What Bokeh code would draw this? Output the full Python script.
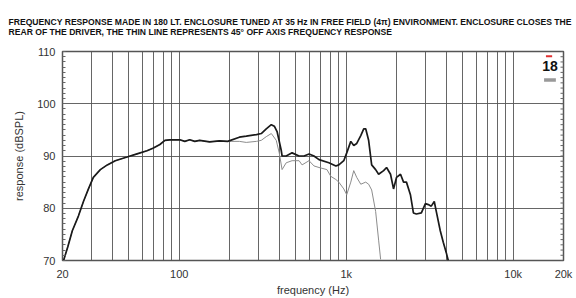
from bokeh.plotting import figure
from bokeh.models import FixedTicker, Label, Range1d, Title
from bokeh.embed import file_html
from bokeh.resources import INLINE

# On-axis response (thick line)
on_freq = [20.3, 21.5, 22.9, 24.9, 26.7, 28.6, 30.6, 33.7, 37.1, 41.4, 48.7, 55.9,
           64.1, 69.6, 76.6, 82.1, 87.9, 100.8, 108, 115.6, 123.9, 132.5, 152, 174,
           195, 229, 252, 290, 310, 332, 356, 371, 386, 408, 413, 437, 474, 522,
           559, 599, 641, 687, 787, 867, 903, 967, 1007, 1065, 1109, 1156, 1222,
           1273, 1308, 1362, 1420, 1500, 1563, 1675, 1744, 1842, 1920, 2000, 2114,
           2204, 2294, 2423, 2525, 2630, 2818, 2979, 3100, 3230, 3367, 3461, 3657,
           3811, 3972, 4083]
on_db = [70.0, 72.6, 75.7, 78.5, 81.3, 83.7, 85.9, 87.4, 88.3, 89.1, 89.8, 90.4,
         91.0, 91.5, 92.2, 93.0, 93.1, 93.1, 92.8, 93.1, 92.8, 93.0, 92.7, 92.9,
         92.8, 93.6, 93.8, 94.1, 94.3, 95.2, 96.0, 95.7, 94.6, 91.1, 90.0, 90.0,
         90.6, 90.0, 90.0, 90.4, 90.0, 89.3, 88.7, 88.1, 88.3, 89.1, 90.6, 92.8,
         92.0, 92.4, 93.9, 95.2, 95.2, 93.0, 88.3, 87.4, 86.5, 87.2, 87.8, 86.5,
         83.7, 85.9, 86.5, 85.0, 85.0, 82.6, 79.1, 78.9, 79.1, 80.9, 80.7, 80.4,
         81.3, 79.4, 75.7, 73.5, 71.5, 70.0]

# 45 deg off-axis response (thin line)
off_freq = [20.3, 21.5, 22.9, 24.9, 26.7, 28.6, 30.6, 33.7, 37.1, 41.4, 48.7, 55.9,
            64.1, 69.6, 76.6, 82.1, 87.9, 100.8, 108, 115.6, 123.9, 132.5, 152, 174,
            195, 229, 252, 290, 310, 332, 356, 381, 397, 413, 437, 474, 522, 544,
            599, 641, 687, 766, 809, 867, 903, 967, 1007, 1065, 1109, 1156, 1222,
            1308, 1362, 1420, 1500, 1563, 1607]
off_db = [70.0, 72.6, 75.7, 78.5, 81.3, 83.7, 85.9, 87.4, 88.3, 89.1, 89.8, 90.4,
          91.0, 91.5, 92.2, 93.0, 93.1, 93.1, 92.8, 93.1, 92.8, 93.0, 92.7, 92.9,
          92.8, 92.8, 92.6, 92.8, 93.0, 93.7, 94.3, 93.0, 90.6, 87.4, 88.7, 89.1,
          89.1, 88.3, 89.1, 88.1, 87.8, 87.4, 86.1, 85.5, 85.0, 83.7, 82.6, 85.0,
          87.2, 85.9, 84.6, 85.0, 84.6, 83.5, 79.4, 73.9, 70.2]

x_ticks = [20, 100, 1000, 10000, 20000]
x_tick_labels = ["20", "100", "1k", "10k", "20k"]
y_ticks = [70, 80, 90, 100, 110]
y_minor = list(range(70, 111))
x_grid = [30, 40, 50, 60, 70, 80, 90, 100, 200, 300, 400, 500, 600, 700, 800, 900,
          1000, 2000, 3000, 4000, 5000, 6000, 7000, 8000, 9000, 10000]
y_grid = [80, 90, 100]

title_text = ("FREQUENCY RESPONSE MADE IN 180 LT. ENCLOSURE TUNED AT 35 Hz IN FREE FIELD (4\u03c0) ENVIRONMENT. ENCLOSURE CLOSES THE\n"
              "REAR OF THE DRIVER, THE THIN LINE REPRESENTS 45\u00b0 OFF AXIS FREQUENCY RESPONSE")
x_label = "frequency (Hz)"
y_label = "response (dBSPL)"

FONT = "Liberation Sans"
GRID = "#555555"
TXT = "#333333"

p = figure(width=576, height=298, x_axis_type="log",
           x_range=Range1d(20, 20000), y_range=Range1d(70, 110),
           output_backend="svg", toolbar_location=None,
           min_border_left=62, min_border_right=13, min_border_top=45,
           min_border_bottom=37)
p.title = None
p.add_layout(Title(text=title_text, text_font=FONT, text_font_size="8.6px",
                   text_font_style="bold", text_color="#111111", align="left",
                   text_line_height=1.0, offset=-54, standoff=29), "above")

p.outline_line_color = GRID
p.outline_line_width = 1.5
p.background_fill_color = "white"
p.border_fill_color = "white"

# grids
p.xgrid.ticker = FixedTicker(ticks=x_grid)
p.ygrid.ticker = FixedTicker(ticks=y_grid)
for g in (p.xgrid, p.ygrid):
    g.grid_line_color = GRID
    g.grid_line_width = 1
    g.grid_line_alpha = 0.9

# x axis
xa = p.xaxis[0]
xa.ticker = FixedTicker(ticks=x_ticks)
xa.major_label_overrides = {t_: l for t_, l in zip(x_ticks, x_tick_labels)}
xa.axis_label = x_label
xa.axis_line_color = None
xa.major_tick_line_color = None
xa.major_tick_out = 0
xa.major_tick_in = 0
xa.minor_tick_line_color = None
xa.minor_tick_out = 0
xa.major_label_standoff = 7
xa.axis_label_standoff = 1

# y axis
ya = p.yaxis[0]
ya.ticker = FixedTicker(ticks=y_ticks, minor_ticks=y_minor)
ya.axis_label = y_label
ya.axis_line_color = None
ya.major_tick_line_color = None
ya.major_tick_out = 0
ya.major_tick_in = 0
ya.minor_tick_in = 3
ya.minor_tick_out = 0
ya.minor_tick_line_color = "#666666"
ya.major_label_standoff = 7
ya.axis_label_standoff = 9

for ax in (xa, ya):
    ax.major_label_text_font = FONT
    ax.major_label_text_font_size = "11px"
    ax.major_label_text_color = TXT
    ax.axis_label_text_font = FONT
    ax.axis_label_text_font_size = "11px"
    ax.axis_label_text_font_style = "normal"
    ax.axis_label_text_color = TXT

# right-edge minor ticks
p.scatter(x=[20000] * len(y_minor), y=y_minor, marker="dash", size=6,
          line_color="#666666", line_width=1)

p.line(off_freq, off_db, line_color="#8c8c8c", line_width=1)
p.line(on_freq, on_db, line_color="#1a1a1a", line_width=1.7)

# logo
p.add_layout(Label(x=16600, y=107.3, text="18", text_font=FONT, text_font_size="14px",
                   text_font_style="bold", text_color="#111111",
                   text_align="center", text_baseline="middle"))
p.quad(left=[15700], right=[17100], bottom=[108.9], top=[109.3],
       fill_color="#e03030", line_color=None)
p.quad(left=[15300], right=[18000], bottom=[104.2], top=[104.9],
       fill_color="#999999", line_color=None)

open("out.html", "w").write(file_html(p, INLINE))
